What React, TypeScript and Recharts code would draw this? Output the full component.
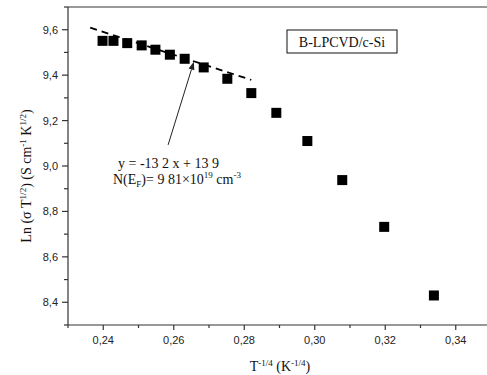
import React from 'react';
import { ScatterChart, Scatter, XAxis, YAxis, ReferenceLine } from 'recharts';

// Measured data points: T^-1/4 (K^-1/4) vs Ln(sigma T^1/2)
const tInvQuarter = [0.2398, 0.2429, 0.2468, 0.2509, 0.2548, 0.2589, 0.2631, 0.2685, 0.2752, 0.282, 0.2891, 0.2979, 0.3078, 0.3197, 0.3338];
const lnSigma = [9.551, 9.551, 9.541, 9.531, 9.512, 9.49, 9.472, 9.434, 9.384, 9.321, 9.234, 9.11, 8.938, 8.732, 8.43];

// Linear fit segment endpoints
const fitX = [0.2363, 0.282];
const fitY = [9.609, 9.379];

// Annotation arrow (from label to fit line)
const arrowX = [0.2584, 0.2657];
const arrowY = [9.093, 9.459];

const xMajorTicks = [0.24, 0.26, 0.28, 0.3, 0.32, 0.34];
const xMinorTicks = [0.23, 0.25, 0.27, 0.29, 0.31, 0.33, 0.35];
const yMajorTicks = [8.4, 8.6, 8.8, 9.0, 9.2, 9.4, 9.6];
const yMinorTicks = [8.3, 8.5, 8.7, 8.9, 9.1, 9.3, 9.5, 9.7];

const xTicks = [...xMajorTicks, ...xMinorTicks].sort((a, b) => a - b);
const yTicks = [...yMajorTicks, ...yMinorTicks].sort((a, b) => a - b);

const points = tInvQuarter.map((x, i) => ({ x, y: lnSigma[i] }));

const isMajor = (list: number[], v: number) => list.some((m) => Math.abs(m - v) < 1e-6);
const fmt = (v: number, d: number) => v.toFixed(d).replace('.', ',');

const TICK_FONT = '"Liberation Sans", Arial, sans-serif';
const SERIF = '"Liberation Serif", "Times New Roman", serif';
const AXIS = '#333';

const XTick = (props: any) => {
  const { x, y, payload } = props;
  const major = isMajor(xMajorTicks, payload.value);
  return (
    <g>
      <line x1={x} x2={x} y1={y} y2={y + (major ? 5 : 3)} stroke={AXIS} strokeWidth={1.2} />
      {major && (
        <text x={x} y={y + 19} textAnchor="middle" fontFamily={TICK_FONT} fontSize={11} fill="#222">
          {fmt(payload.value, 2)}
        </text>
      )}
    </g>
  );
};

const YTick = (props: any) => {
  const { x, y, payload } = props;
  const major = isMajor(yMajorTicks, payload.value);
  return (
    <g>
      <line x1={x - (major ? 6 : 4)} x2={x} y1={y} y2={y} stroke={AXIS} strokeWidth={1.2} />
      {major && (
        <text x={x - 10} y={y + 4} textAnchor="end" fontFamily={TICK_FONT} fontSize={11} fill="#222">
          {fmt(payload.value, 1)}
        </text>
      )}
    </g>
  );
};

const SquareShape = (props: any) => {
  const { cx, cy } = props;
  if (cx == null || cy == null) return null;
  return <rect x={cx - 5} y={cy - 5} width={10} height={10} fill="#000" />;
};

const ArrowShape = (props: any) => {
  const { x1, y1, x2, y2 } = props;
  const ang = Math.atan2(y2 - y1, x2 - x1);
  const L = 8;
  const W = 3;
  const bx = x2 - L * Math.cos(ang);
  const by = y2 - L * Math.sin(ang);
  const px = -Math.sin(ang) * W;
  const py = Math.cos(ang) * W;
  return (
    <g>
      <line x1={x1} y1={y1} x2={bx} y2={by} stroke="#222" strokeWidth={1} />
      <polygon points={`${x2},${y2} ${bx + px},${by + py} ${bx - px},${by - py}`} fill="#222" />
    </g>
  );
};

export default function App() {
  return (
    <div style={{ position: 'absolute', left: 0, top: 0, width: 487, height: 375, overflow: 'hidden', background: '#fff' }}>
      <ScatterChart width={491} height={375} margin={{ top: 7, right: 0, left: 0, bottom: 0 }}>
        <XAxis
          type="number"
          dataKey="x"
          domain={[0.23, 0.35]}
          ticks={xTicks}
          interval={0}
          allowDataOverflow
          height={50}
          tickSize={0}
          tickMargin={0}
          tickLine={false}
          axisLine={{ stroke: AXIS, strokeWidth: 1.2 }}
          tick={<XTick />}
        />
        <YAxis
          type="number"
          dataKey="y"
          domain={[8.3, 9.7]}
          ticks={yTicks}
          interval={0}
          allowDataOverflow
          width={68}
          tickSize={0}
          tickMargin={0}
          tickLine={false}
          axisLine={{ stroke: AXIS, strokeWidth: 1.2 }}
          tick={<YTick />}
        />
        <ReferenceLine y={9.7} stroke="#777" strokeWidth={1.5} />
        <ReferenceLine
          segment={[{ x: fitX[0], y: fitY[0] }, { x: fitX[1], y: fitY[1] }]}
          stroke="#000"
          strokeWidth={1.8}
          strokeDasharray="7 5"
        />
        <ReferenceLine
          segment={[{ x: arrowX[0], y: arrowY[0] }, { x: arrowX[1], y: arrowY[1] }]}
          shape={ArrowShape}
        />
        <Scatter data={points} shape={SquareShape} isAnimationActive={false} />
      </ScatterChart>
      <svg width={487} height={375} style={{ position: 'absolute', left: 0, top: 0, pointerEvents: 'none' }}>
        <rect x={287} y={30} width={110} height={23} fill="#fff" stroke="#111" strokeWidth={1} />
        <text x={342} y={47} textAnchor="middle" fontFamily={SERIF} fontSize={14} fill="#111">B-LPCVD/c-Si</text>
        <text x={118} y={168} fontFamily={SERIF} fontSize={14} fill="#111">y = -13 2 x + 13 9</text>
        <text x={113} y={184} fontFamily={SERIF} fontSize={14} fill="#111">
          N(E<tspan dy={3} fontSize={9}>F</tspan>
          <tspan dy={-3}>)= 9 81×10</tspan>
          <tspan dy={-6} fontSize={9}>19</tspan>
          <tspan dy={6}> cm</tspan>
          <tspan dy={-6} fontSize={9}>-3</tspan>
        </text>
        <text x={31} y={176} transform="rotate(-90 31 176)" textAnchor="middle" fontFamily={SERIF} fontSize={14} fill="#111">
          Ln (σ T<tspan dy={-5} fontSize={9}>1/2</tspan>
          <tspan dy={5}>) (S cm</tspan>
          <tspan dy={-5} fontSize={9}>-1</tspan>
          <tspan dy={5}> K</tspan>
          <tspan dy={-5} fontSize={9}>1/2</tspan>
          <tspan dy={5}>)</tspan>
        </text>
        <text x={280} y={371} textAnchor="middle" fontFamily={SERIF} fontSize={14} fill="#111">
          T<tspan dy={-5} fontSize={9}>-1/4</tspan>
          <tspan dy={5}> (K</tspan>
          <tspan dy={-5} fontSize={9}>-1/4</tspan>
          <tspan dy={5}>)</tspan>
        </text>
      </svg>
    </div>
  );
}
